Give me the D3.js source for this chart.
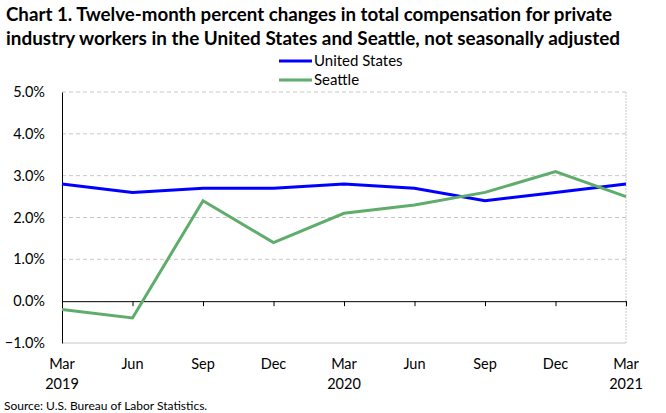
<!DOCTYPE html>
<html><head><meta charset="utf-8">
<script src="https://cdn.jsdelivr.net/npm/d3@7"></script>
<style>body{margin:0;background:#fff}svg{display:block}text{font-family:Lato,"Open Sans",sans-serif}</style>
</head><body><svg id="c" width="666" height="413"></svg>
<script>
const months = ["Mar","Jun","Sep","Dec","Mar","Jun","Sep","Dec","Mar"];
const years = ["2019","","","","2020","","","","2021"];
const unitedStates = [2.8,2.6,2.7,2.7,2.8,2.7,2.4,2.6,2.8];
const seattle = [-0.2,-0.4,2.4,1.4,2.1,2.3,2.6,3.1,2.5];
const yTicks = [-1,0,1,2,3,4,5];
const seriesNames = ["United States","Seattle"];
const seriesColors = ["#0000ff","#5fad6b"];

const svg = d3.select("#c");
const L=62,R=626,T=92,B=343;
const x = d3.scaleLinear().domain([0,months.length-1]).range([L,R]);
const y = d3.scaleLinear().domain([-1,5]).range([B,T]);

// title
svg.append("text").attr("x",6).attr("y",21).attr("font-weight","bold").attr("font-size",18.3)
  .attr("textLength",606).attr("lengthAdjust","spacingAndGlyphs")
  .text("Chart 1. Twelve-month percent changes in total compensation for private");
svg.append("text").attr("x",6).attr("y",45).attr("font-weight","bold").attr("font-size",18.3)
  .attr("textLength",614).attr("lengthAdjust","spacingAndGlyphs")
  .text("industry workers in the United States and Seattle, not seasonally adjusted");

// grid
svg.append("g").selectAll("line").data(yTicks.filter(d=>d!==0&&d!==-1)).join("line")
  .attr("x1",L).attr("x2",R).attr("y1",d=>y(d)).attr("y2",d=>y(d))
  .attr("stroke","#c8c8c8").attr("stroke-dasharray","4,3");
svg.append("line").attr("x1",R).attr("x2",R).attr("y1",T).attr("y2",B).attr("stroke","#c8c8c8").attr("stroke-dasharray","2,1");
svg.append("line").attr("x1",L).attr("x2",R).attr("y1",B).attr("y2",B).attr("stroke","#c8c8c8");

// y axis
const yAxis = d3.axisLeft(y).tickValues(yTicks).tickFormat(d=>d3.format(".1f")(d)+"%").tickSize(0).tickPadding(17);
const gy = svg.append("g").attr("transform",`translate(${L},0)`).call(yAxis);
gy.select(".domain").attr("stroke","#000");
gy.selectAll("text").attr("font-size",14.5).attr("fill","#000").attr("font-family","Lato,'Open Sans',sans-serif");

// zero axis with ticks
const xAxis = d3.axisBottom(x).tickValues(d3.range(months.length)).tickFormat("").tickSize(5).tickSizeOuter(0);
const gx = svg.append("g").attr("transform",`translate(0,${y(0)})`).call(xAxis);
gx.select(".domain").attr("stroke","#000");
gx.selectAll("line").attr("stroke","#000");

// x labels
svg.append("g").selectAll("text").data(months).join("text")
  .attr("x",(d,i)=>x(i)).attr("y",369).attr("text-anchor","middle").attr("font-size",14.5).text(d=>d);
svg.append("g").selectAll("text").data(years).join("text")
  .attr("x",(d,i)=>x(i)).attr("y",389).attr("text-anchor","middle").attr("font-size",14.5).text(d=>d);

// lines
const line = d3.line().x((d,i)=>x(i)).y(d=>y(d));
[unitedStates,seattle].forEach((s,k)=>{
  svg.append("path").datum(s).attr("d",line).attr("fill","none")
    .attr("stroke",seriesColors[k]).attr("stroke-width",3);
});

// legend
seriesNames.forEach((n,k)=>{
  const ly = 61 + k*19;
  svg.append("line").attr("x1",279).attr("x2",312).attr("y1",ly).attr("y2",ly)
    .attr("stroke",seriesColors[k]).attr("stroke-width",3);
  svg.append("text").attr("x",314).attr("y",ly+5).attr("font-size",15).text(n);
});

// source
svg.append("text").attr("x",4).attr("y",410).attr("font-size",12).text("Source: U.S. Bureau of Labor Statistics.");
</script></body></html>
